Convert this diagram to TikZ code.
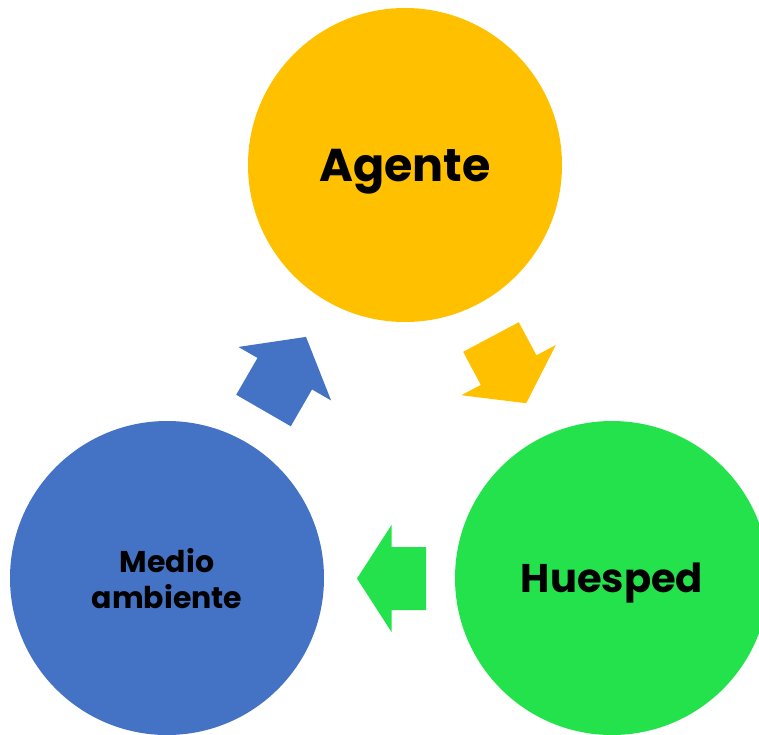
\documentclass[tikz,border=0pt]{standalone}
\usepackage{fontspec}
\setmainfont{Poppins}
\usepackage{tikz}
\usetikzlibrary{calc, positioning}

\definecolor{agenteyellow}{HTML}{FFC000}
\definecolor{mediumblue}{HTML}{4472C4}
\definecolor{huespedgreen}{HTML}{24E24C}

\tikzset{
  factor/.style = {circle, minimum size=314pt, inner sep=0pt, align=center,
    text depth=0pt, font=\bfseries\fontsize{46}{50}\selectfont},
}

% block arrow: colour, back midpoint, angle, length
\newcommand{\cyclearrow}[4]{%
  \fill[#1, shift={(#2)}, rotate=#3]
    (0,-31.5) -- (#4/2,-31.5) -- (#4/2,-53.5) -- (#4,0)
    -- (#4/2,53.5) -- (#4/2,31.5) -- (0,31.5) -- cycle;
}

\begin{document}
\begin{tikzpicture}[x=1pt, y=1pt]
\useasboundingbox (0,0) rectangle (759,-734);

\begin{scope}
    \node[factor, fill=agenteyellow] (agente) at (405,-165) {Agente};
    \node[factor, fill=huespedgreen, font=\bfseries\fontsize{40}{44}\selectfont]
      (huesped) at (612,-578) {Huesped};
    \node[factor, fill=mediumblue, font=\bfseries\fontsize{30}{36}\selectfont]
      (medio) at (167,-578) {Medio\\ambiente};
\end{scope}

\coordinate (ah) at (491,-337);
\coordinate (hm) at (426,-578.5);
\coordinate (ma) at (263.5,-410.5);

\cyclearrow{agenteyellow}{ah}{-62}{75}
\cyclearrow{huespedgreen}{hm}{180}{69}
\cyclearrow{mediumblue}{ma}{60}{85}
\end{tikzpicture}
\end{document}
